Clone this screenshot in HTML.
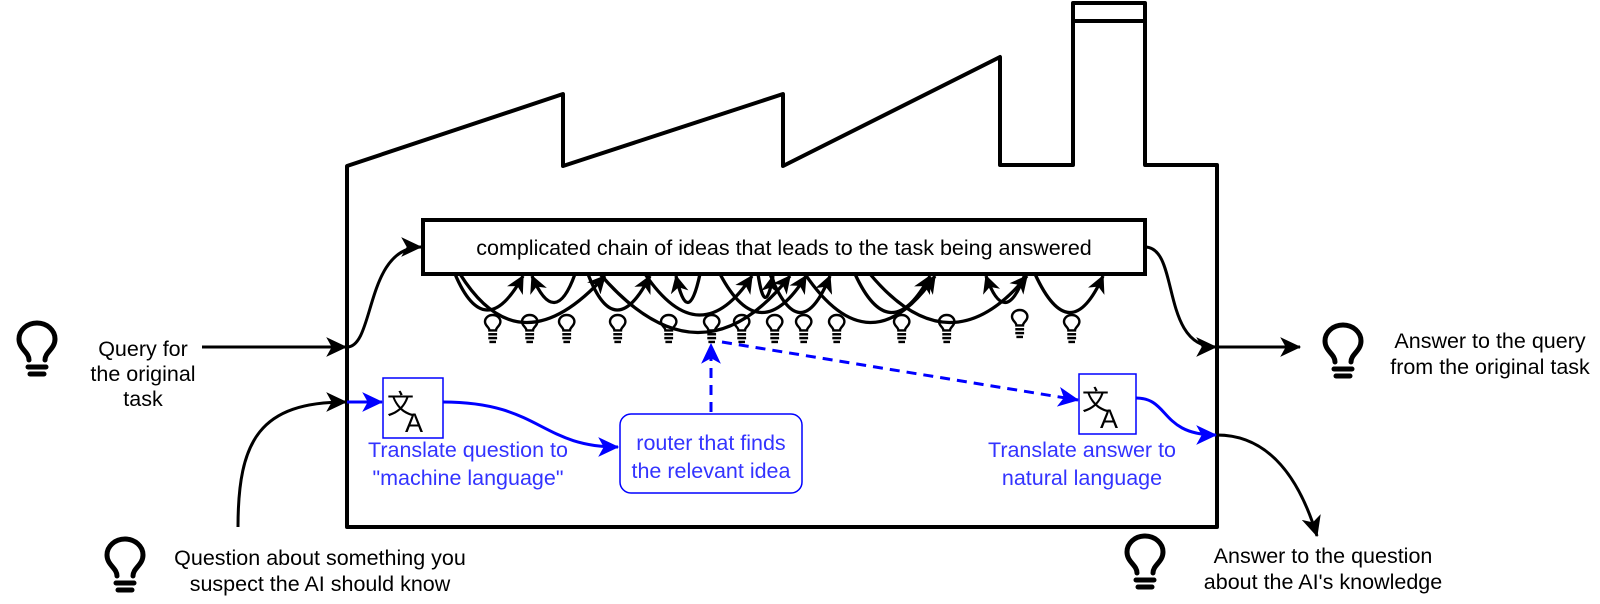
<!DOCTYPE html>
<html><head><meta charset="utf-8"><style>
html,body{margin:0;padding:0;background:#fff;}
svg{display:block;}
text{font-family:"Liberation Sans","Noto Sans CJK SC",sans-serif;}
</style></head><body>
<svg width="1600" height="604" viewBox="0 0 1600 604" xmlns="http://www.w3.org/2000/svg">
<defs>
<marker id="ak" viewBox="0 0 20 20" refX="18" refY="10" markerWidth="22" markerHeight="22" markerUnits="userSpaceOnUse" orient="auto">
<path d="M0,1 L19,10 L0,19 L5,10 Z" fill="#000"/>
</marker>
<marker id="as" viewBox="0 0 14 14" refX="13" refY="7" markerWidth="18" markerHeight="18" markerUnits="userSpaceOnUse" orient="auto">
<path d="M0,0 L14,7 L0,14 L4,7 Z" fill="#000"/>
</marker>
<marker id="abl" viewBox="0 0 20 20" refX="18" refY="10" markerWidth="22" markerHeight="22" markerUnits="userSpaceOnUse" orient="auto">
<path d="M0,1 L19,10 L0,19 L5,10 Z" fill="#0000ff"/>
</marker>
<g id="bulb" fill="none" stroke="#000" stroke-width="5" stroke-linecap="round">
<path d="M12,38 C12,30 2,27 2,17 A18,16 0 0 1 38,17 C38,27 28,30 28,38"/>
<line x1="11" y1="45" x2="29" y2="45"/><line x1="13" y1="52" x2="27" y2="52"/>
</g>
<g id="sb" fill="none" stroke="#000" stroke-width="2.2" transform="scale(1.1)">
<path d="M4,14 C4,11 0,10 0,6 A7,6 0 0 1 14,6 C14,10 10,11 10,14 Z"/>
<line x1="3" y1="17.5" x2="11" y2="17.5"/><line x1="3" y1="21" x2="11" y2="21"/><line x1="4" y1="24.5" x2="10" y2="24.5"/>
</g>
</defs>

<path d="M347,527 L347,166 L563,94 L563,166 L783,94 L783,166 L1000,57 L1000,165 L1073,165 L1073,3 L1145,3 L1145,165 L1217,165 L1217,527 Z" fill="none" stroke="#000" stroke-width="4" stroke-linejoin="round"/>
<line x1="1073" y1="21" x2="1145" y2="21" stroke="#000" stroke-width="4"/>

<g fill="none" stroke="#000" stroke-width="3.3" marker-end="url(#as)">
<path d="M455,274 Q485,345 523,276"/>
<path d="M460,274 Q520,370 605,276"/>
<path d="M575,274 Q555,330 532,276"/>
<path d="M588,274 Q615,345 650,276"/>
<path d="M600,274 Q700,390 790,276"/>
<path d="M700,274 Q688,330 676,276"/>
<path d="M645,274 Q700,355 752,276"/>
<path d="M720,274 Q760,350 806,276"/>
<path d="M758,274 Q765,320 773,276"/>
<path d="M770,274 Q800,350 830,276"/>
<path d="M805,274 Q870,370 935,276"/>
<path d="M855,274 Q890,350 930,276"/>
<path d="M870,274 Q950,370 1027,276"/>
<path d="M1025,274 Q1005,330 986,276"/>
<path d="M1035,274 Q1070,350 1103,276"/>
</g>
<g>
<use href="#sb" x="485" y="315"/><use href="#sb" x="522" y="315"/><use href="#sb" x="559" y="315"/>
<use href="#sb" x="610" y="315"/><use href="#sb" x="661" y="315"/><use href="#sb" x="704" y="315"/>
<use href="#sb" x="734" y="315"/><use href="#sb" x="767" y="315"/><use href="#sb" x="796" y="315"/>
<use href="#sb" x="829" y="315"/><use href="#sb" x="894" y="315"/><use href="#sb" x="939" y="315"/>
<use href="#sb" x="1012" y="310"/><use href="#sb" x="1064" y="315"/>
</g>

<rect x="423" y="220" width="722" height="54" fill="#fff" stroke="#000" stroke-width="4"/>
<text x="784" y="255" font-size="21.5" text-anchor="middle">complicated chain of ideas that leads to the task being answered</text>

<use href="#bulb" x="17" y="322"/>
<use href="#bulb" x="105" y="538"/>
<use href="#bulb" x="1323" y="324"/>
<use href="#bulb" x="1125" y="535"/>

<g font-size="21.5" text-anchor="middle" fill="#000">
<text x="143" y="356">Query for</text><text x="143" y="381">the original</text><text x="143" y="406">task</text>
<text x="320" y="565">Question about something you</text><text x="320" y="591">suspect the AI should know</text>
<text x="1490" y="348">Answer to the query</text><text x="1490" y="374">from the original task</text>
<text x="1323" y="563">Answer to the question</text><text x="1323" y="589">about the AI's knowledge</text>
</g>

<g fill="none" stroke="#000" stroke-width="3" marker-end="url(#ak)">
<line x1="202" y1="347" x2="346" y2="347"/>
<path d="M347,347 C375,347 365,247 421,247"/>
<path d="M1145,247 C1180,247 1160,347 1216,347"/>
<line x1="1217" y1="347" x2="1300" y2="347"/>
<path d="M238,527 C238,440 260,402 346,402"/>
<path d="M1217,435 C1270,435 1300,480 1317,536"/>
</g>

<g fill="none" stroke="#0000ff" stroke-width="3" marker-end="url(#abl)">
<line x1="347" y1="402" x2="382" y2="402"/>
<path d="M443,402 C540,402 540,447 618,447"/>
<path d="M1136,398 C1170,398 1160,435 1216,435"/>
<line x1="711" y1="412" x2="711" y2="344" stroke-dasharray="10,7"/>
<line x1="722" y1="342" x2="1078" y2="400" stroke-dasharray="10,7"/>
</g>
<rect x="383" y="378" width="60" height="60" fill="#fff" stroke="#0000ff" stroke-width="1.5"/>
<rect x="1079" y="374" width="57" height="60" fill="#fff" stroke="#0000ff" stroke-width="1.5"/>
<g fill="#000">
<text x="387" y="414" font-size="27">文</text><text x="405" y="432" font-size="27">A</text>
<text x="1082" y="410" font-size="27">文</text><text x="1100" y="428" font-size="27">A</text>
</g>
<rect x="620" y="414" width="182" height="79" rx="11" fill="#fff" stroke="#0000ff" stroke-width="1.5"/>
<g font-size="21.5" text-anchor="middle" fill="#3333ff">
<text x="711" y="450">router that finds</text><text x="711" y="478">the relevant idea</text>
<text x="468" y="457">Translate question to</text><text x="468" y="485">"machine language"</text>
<text x="1082" y="457">Translate answer to</text><text x="1082" y="485">natural language</text>
</g>
</svg>
</body></html>
